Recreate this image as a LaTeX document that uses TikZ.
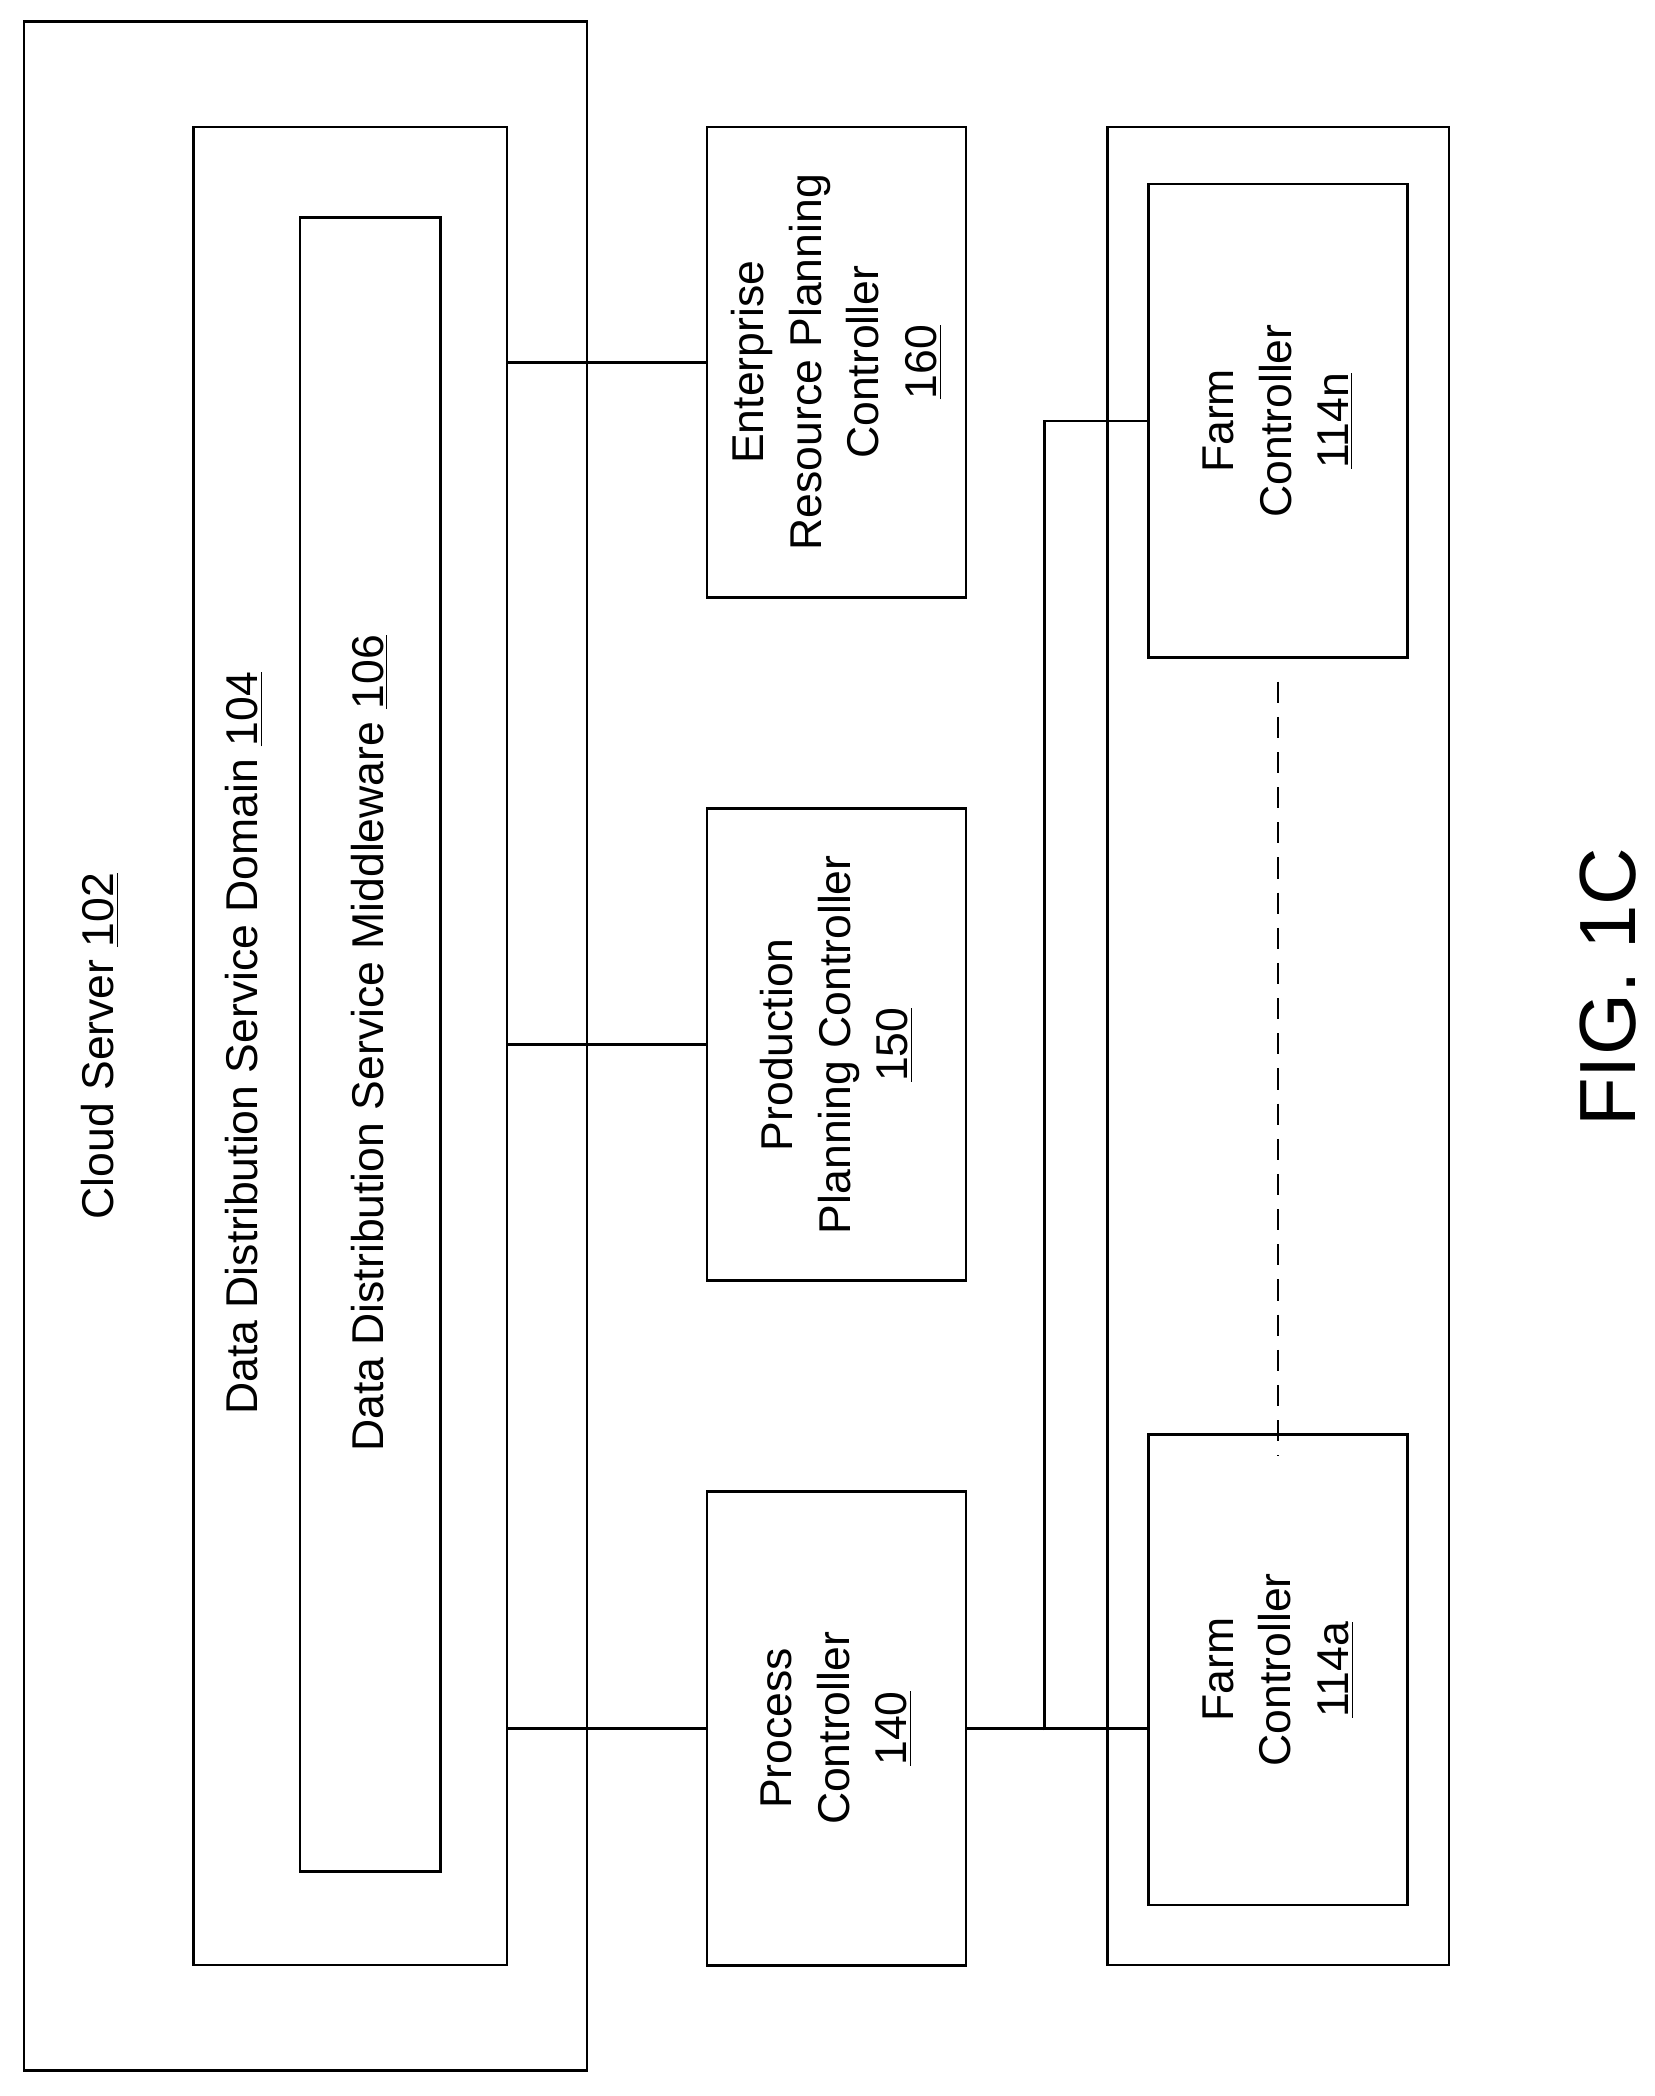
\documentclass[tikz,border=0pt]{standalone}
\usepackage{fontspec}
\setmainfont{Liberation Sans}
\usetikzlibrary{positioning}
\tikzset{
  box/.style={rectangle, draw=black, line width=1.1pt, inner sep=0pt},
  lbl/.style={rotate=90, align=center, font=\fontsize{19}{24.5}\selectfont},
  link/.style={line width=1.1pt}
}
\begin{document}
\begin{tikzpicture}[x=0.02cm, y=-0.02cm]
    \useasboundingbox (0,0) rectangle (1240,1571);
    % Cloud side
    \node[box, minimum width=8.44cm, minimum height=30.72cm] (cloud) at (229,784) {};
    \node[box, minimum width=4.7cm, minimum height=27.56cm] (dds) at (262.5,784) {};
    \node[box, minimum width=2.1cm, minimum height=24.8cm] (mw) at (277.5,783) {};
    \node[lbl] (cloudtxt) at (75,784) {Cloud Server \underline{102}};
    \node[lbl] (ddstxt) at (183,782) {Data Distribution Service Domain \underline{104}};
    \node[lbl] (mwtxt) at (277,782) {Data Distribution Service Middleware \underline{106}};
    % Controllers
    \node[box, minimum width=3.88cm, minimum height=7.06cm] (erp) at (627,271.5) {};
    \node[box, minimum width=3.88cm, minimum height=7.08cm] (ppc) at (627,783) {};
    \node[box, minimum width=3.88cm, minimum height=7.1cm] (proc) at (627,1295.5) {};
    \node[lbl] at (erp) {Enterprise\\Resource Planning\\Controller\\\underline{160}};
    \node[lbl] at (ppc) {Production\\Planning Controller\\\underline{150}};
    \node[lbl] at (proc) {Process\\Controller\\\underline{140}};
    % Farm
    \node[box, minimum width=5.12cm, minimum height=27.56cm] (farm) at (958,784) {};
    \node[box, minimum width=3.88cm, minimum height=7.1cm] (fn) at (958,315.5) {};
    \node[box, minimum width=3.88cm, minimum height=7.06cm] (fa) at (958,1251.5) {};
    \node[lbl] at (fn) {Farm\\Controller\\\underline{114n}};
    \node[lbl] at (fa) {Farm\\Controller\\\underline{114a}};
    \coordinate (bus) at (783,1297);
    % Links
    \draw[link] (dds.east |- erp) -- (erp.west);
    \draw[link] (dds.east |- ppc) -- (ppc.west);
    \draw[link] (dds.east |- proc) -- (proc.west);
    \draw[link] (proc.east) -- (proc.east -| fa.west);
    \draw[link] (bus) -- (bus |- fn) -- (fn.west);
    \draw[link, dashed, dash pattern=on 9pt off 6pt] (fn.south) ++(0,17) -- ([yshift=-0.34cm]fa.north);
    \node[rotate=90, font=\fontsize{34}{40}\selectfont] (fig) at (1205,740) {FIG. 1C};
\end{tikzpicture}
\end{document}
